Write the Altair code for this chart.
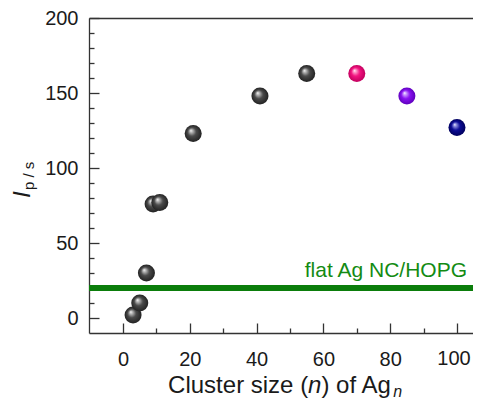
import altair as alt
import pandas as pd

# ---- data ----
gray_n = [3, 5, 7, 9, 11, 21, 41, 55]
gray_I = [2, 10, 30, 76, 77, 123, 148, 163]
pink_n, pink_I = [70], [163]
purple_n, purple_I = [85], [148]
blue_n, blue_I = [100], [127]
flat_value = [20]
flat_label = ["flat Ag NC/HOPG"]

x_major = [0, 20, 40, 60, 80, 100]
x_axis_labelled = [0, 20, 40, 60, 80]
x_edge_label = [100]
x_minor = [10, 30, 50, 70, 90]
y_major = [0, 50, 100, 150, 200]
y_minor = [10, 20, 30, 40, 60, 70, 80, 90, 110, 120, 130, 140, 160, 170, 180, 190]

FONT = "Liberation Sans"
AX = "#333333"
W, H = 384, 315

xs = alt.Scale(domain=[-10.2, 104.8], nice=False, zero=False)
ys = alt.Scale(domain=[-10, 200], nice=False, zero=False)

gray_df = pd.DataFrame({"n": gray_n, "I": gray_I})


def sphere(light, main, dark):
    return alt.RadialGradient(
        gradient="radial",
        x1=0.36, y1=0.32, r1=0.0,
        x2=0.5, y2=0.5, r2=0.5,
        stops=[
            alt.GradientStop(offset=0.0, color="#ffffff"),
            alt.GradientStop(offset=0.14, color=light),
            alt.GradientStop(offset=0.5, color=main),
            alt.GradientStop(offset=1.0, color=dark),
        ],
    )


def points(ns, vals, grad):
    df = pd.DataFrame({"n": ns, "I": vals})
    return alt.Chart(df).mark_circle(fill=grad, size=290, opacity=1, strokeWidth=0).encode(
        x=alt.X("n:Q", scale=xs, axis=None),
        y=alt.Y("I:Q", scale=ys, axis=None),
    )


def axis_layer(xaxis, yaxis):
    return alt.Chart(gray_df).mark_circle(opacity=0).encode(
        x=alt.X("n:Q", scale=xs, axis=xaxis),
        y=alt.Y("I:Q", scale=ys, axis=yaxis),
    )


common = dict(grid=False, title=None)
lab_x = alt.Axis(orient="bottom", values=x_axis_labelled, ticks=False, tickSize=0, domain=True,
                 domainColor=AX, domainWidth=1.3, labelFont=FONT, labelFontSize=20,
                 labelColor="#1a1a1a", labelPadding=16, labelFlush=False,
                 labelOverlap=False, format="d", **common)
lab_y = alt.Axis(orient="left", values=y_major, ticks=False, tickSize=0, domain=True,
                 domainColor=AX, domainWidth=1.3, labelFont=FONT, labelFontSize=20,
                 labelColor="#1a1a1a", labelPadding=11, labelFlush=False,
                 labelOverlap=False, format="d", **common)


def tick_axis(orient, values, size):
    return alt.Axis(orient=orient, values=values, ticks=True, tickSize=size, tickColor=AX,
                    tickWidth=1.3, offset=-size, domain=False, labels=False, **common)


top_axis = alt.Axis(orient="top", ticks=False, tickSize=0, domain=True, domainColor=AX,
                    domainWidth=1.3, labels=False, **common)

layers = [
    axis_layer(lab_x, lab_y),
    axis_layer(tick_axis("bottom", x_major, 10), tick_axis("left", y_major, 10)),
    axis_layer(tick_axis("bottom", x_minor, 5), tick_axis("left", y_minor, 5)),
    axis_layer(top_axis, None),
]

# last x tick label, nudged so it stays inside the page
edge_df = pd.DataFrame({"n": x_edge_label, "t": [str(v) for v in x_edge_label]})
layers.append(
    alt.Chart(edge_df).mark_text(font=FONT, fontSize=20, color="#1a1a1a", align="center",
                                 baseline="top", dx=-3).encode(
        x=alt.X("n:Q", scale=xs, axis=None), y=alt.value(H + 16), text="t:N"
    )
)

# flat reference line
flat_df = pd.DataFrame({"v": flat_value})
layers.append(
    alt.Chart(flat_df).mark_rule(color="#0b7d0b", strokeWidth=6).encode(
        y=alt.Y("v:Q", scale=ys, axis=None)
    )
)
label_df = pd.DataFrame({"t": flat_label})
layers.append(
    alt.Chart(label_df).mark_text(font=FONT, fontSize=21, color="#138b13", align="right",
                                  baseline="alphabetic").encode(
        x=alt.value(378), y=alt.value(259), text="t:N"
    )
)

# spheres
layers.append(points(gray_n, gray_I, sphere("#c4c4c4", "#4a4a4a", "#222222")))
layers.append(points(pink_n, pink_I, sphere("#ffa6d0", "#f2137f", "#c2005e")))
layers.append(points(purple_n, purple_I, sphere("#d2a6ff", "#8a12f2", "#5e00bc")))
layers.append(points(blue_n, blue_I, sphere("#9a9ae6", "#0c0c98", "#00005c")))

# axis titles made of text pieces (italic / subscript parts)
one = pd.DataFrame({"k": [0]})


def txt(text, x, y, size, style="normal", angle=0, color="#1a1a1a"):
    kw = dict(font=FONT, fontSize=size, fontStyle=style, color=color, align="left",
              baseline="alphabetic", text=text)
    if angle:
        kw["angle"] = angle
    return alt.Chart(one).mark_text(**kw).encode(x=alt.value(x), y=alt.value(y))


F = 24
x0 = 79.1
yb = 375
layers += [
    txt("Cluster size (", x0, yb, F),
    txt("n", x0 + 5.834 * F, yb, F, "italic"),
    txt(") of Ag", x0 + 6.390 * F, yb, F),
    txt("n", x0 + 9.336 * F + 1, yb + 4, 16, "italic"),
    txt("I", -59, 180, 24, "italic", 270),
    txt("p / s", -55, 172, 15, "normal", 270),
]

chart = alt.layer(*layers).resolve_axis(x="independent", y="independent").properties(
    width=W, height=H,
    autosize=alt.AutoSizeParams(type="none"),
    padding={"left": 81, "top": 10, "right": 0, "bottom": 67},
).configure_view(strokeWidth=0)

chart.save("out.html", embed_options={"renderer": "svg", "actions": False})
